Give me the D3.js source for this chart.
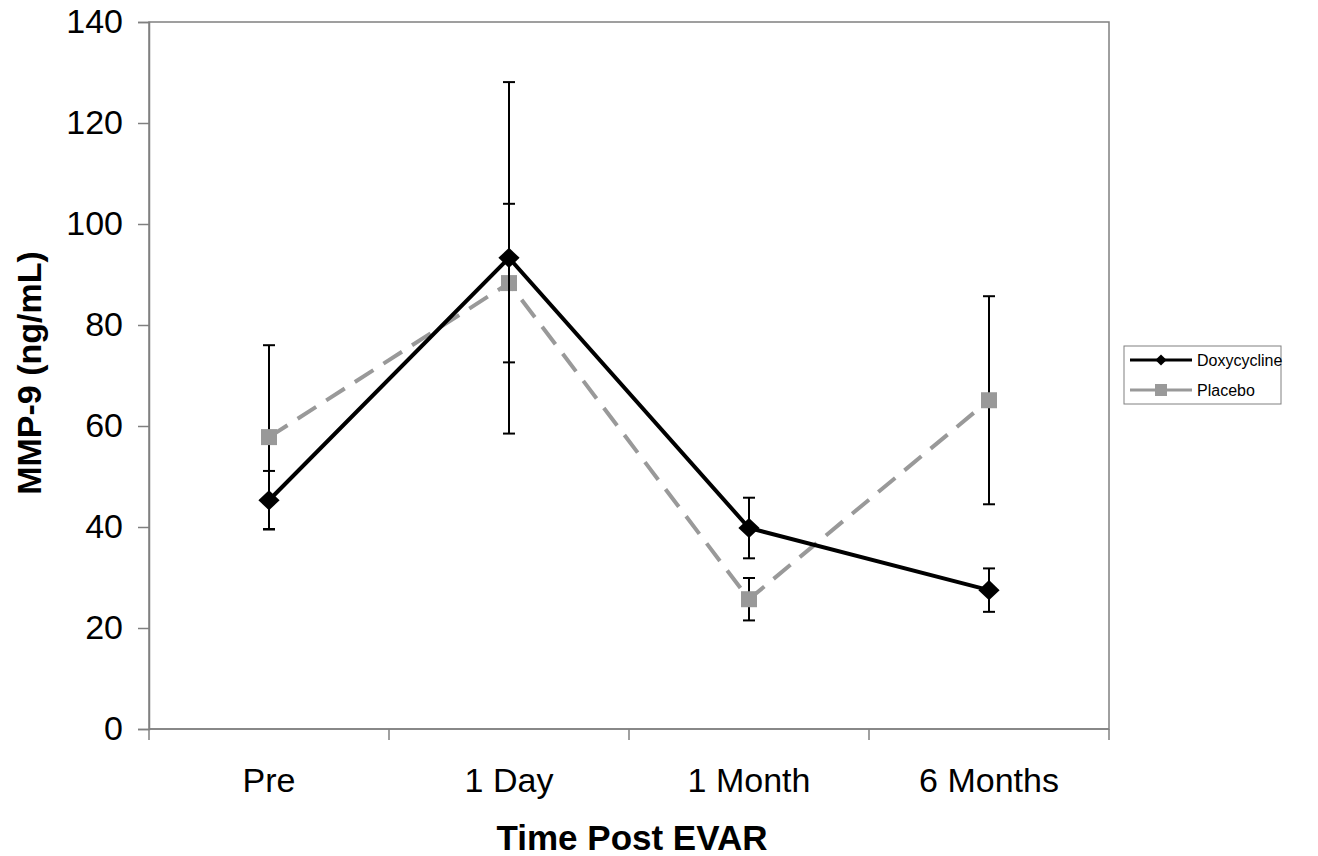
<!DOCTYPE html>
<html>
<head>
<meta charset="utf-8">
<script src="https://cdn.jsdelivr.net/npm/d3@7"></script>
<style>
  body { margin: 0; background: #fff; }
  svg { font-family: "Liberation Sans", Arial, sans-serif; }
</style>
</head>
<body>
<div class="chart"></div>
<script>
// chart data
const categories = ["Pre", "1 Day", "1 Month", "6 Months"];
const doxyValues = [45.3, 93.3, 39.8, 27.5];
const doxyErrors = [5.8, 34.8, 6.0, 4.3];
const placeboValues = [57.8, 88.3, 25.7, 65.1];
const placeboErrors = [18.2, 15.7, 4.2, 20.6];
const yTicks = [0, 20, 40, 60, 80, 100, 120, 140];

const width = 1318, height = 856;
const plot = { left: 149, top: 22, right: 1109, bottom: 729 };

const svg = d3.select(".chart").append("svg")
  .attr("width", width)
  .attr("height", height);

const x = d3.scaleBand()
  .domain(categories)
  .range([plot.left, plot.right]);

const y = d3.scaleLinear()
  .domain([0, 140])
  .range([plot.bottom, plot.top]);

// plot frame
svg.append("rect")
  .attr("x", plot.left).attr("y", plot.top)
  .attr("width", plot.right - plot.left)
  .attr("height", plot.bottom - plot.top)
  .attr("fill", "none")
  .attr("stroke", "#808080")
  .attr("stroke-width", 1.5);

// y axis
const yAxis = svg.append("g")
  .attr("transform", "translate(" + plot.left + ",0)")
  .call(d3.axisLeft(y).tickValues(yTicks).tickSize(11).tickPadding(15));
yAxis.select(".domain").attr("stroke", "#808080").attr("stroke-width", 1.5);
yAxis.selectAll(".tick line").attr("stroke", "#808080").attr("stroke-width", 1.5);
yAxis.selectAll(".tick text").attr("font-size", 34).attr("fill", "#000")
  .attr("font-family", "Liberation Sans, Arial, sans-serif");

// x axis: ticks at category boundaries
const xAxis = svg.append("g")
  .attr("transform", "translate(0," + plot.bottom + ")");
xAxis.append("line")
  .attr("x1", plot.left).attr("x2", plot.right)
  .attr("stroke", "#808080").attr("stroke-width", 1.5);
const bounds = categories.map(c => x(c)).concat([plot.right]);
xAxis.selectAll(".xtick")
  .data(bounds)
  .enter()
  .append("line")
    .attr("x1", d => d).attr("x2", d => d)
    .attr("y1", 0).attr("y2", 11)
    .attr("stroke", "#808080").attr("stroke-width", 1.5);
xAxis.selectAll(".xlabel")
  .data(categories)
  .enter()
  .append("text")
    .attr("x", d => x(d) + x.bandwidth() / 2)
    .attr("y", 63)
    .attr("text-anchor", "middle")
    .attr("font-size", 34)
    .text(d => d);

// axis titles
svg.append("text")
  .attr("x", 632)
  .attr("y", 850)
  .attr("text-anchor", "middle")
  .attr("font-size", 35)
  .attr("font-weight", "bold")
  .text("Time Post EVAR");

svg.append("text")
  .attr("transform", "translate(41,373) rotate(-90)")
  .attr("text-anchor", "middle")
  .attr("font-size", 34)
  .attr("font-weight", "bold")
  .text("MMP-9 (ng/mL)");

const cx = c => x(c) + x.bandwidth() / 2;

// error bars
function errorBars(values, errors) {
  const g = svg.append("g");
  categories.forEach((c, i) => {
    const hi = y(values[i] + errors[i]);
    const lo = y(values[i] - errors[i]);
    g.append("line").attr("x1", cx(c)).attr("x2", cx(c)).attr("y1", hi).attr("y2", lo)
      .attr("stroke", "#000").attr("stroke-width", 2);
    [hi, lo].forEach(v => {
      g.append("line").attr("x1", cx(c) - 6).attr("x2", cx(c) + 6).attr("y1", v).attr("y2", v)
        .attr("stroke", "#000").attr("stroke-width", 2);
    });
  });
}

const line = d3.line().x((d, i) => cx(categories[i])).y(d => y(d));

// placebo series
svg.append("path")
  .datum(placeboValues)
  .attr("d", line)
  .attr("fill", "none")
  .attr("stroke", "#999999")
  .attr("stroke-width", 4)
  .attr("stroke-dasharray", "22,12");
errorBars(placeboValues, placeboErrors);
svg.selectAll(".psq")
  .data(placeboValues)
  .enter()
  .append("rect")
    .attr("x", (d, i) => cx(categories[i]) - 8)
    .attr("y", d => y(d) - 8)
    .attr("width", 16).attr("height", 16)
    .attr("fill", "#999999");

// doxycycline series
svg.append("path")
  .datum(doxyValues)
  .attr("d", line)
  .attr("fill", "none")
  .attr("stroke", "#000")
  .attr("stroke-width", 4);
errorBars(doxyValues, doxyErrors);
svg.selectAll(".dmk")
  .data(doxyValues)
  .enter()
  .append("path")
    .attr("d", d3.symbol(d3.symbolDiamond2, 260))
    .attr("transform", (d, i) => "translate(" + cx(categories[i]) + "," + y(d) + ") scale(1.05,1)")
    .attr("fill", "#000");

// legend
const legend = svg.append("g").attr("transform", "translate(1124,346)");
legend.append("rect")
  .attr("width", 157).attr("height", 58)
  .attr("fill", "#fff").attr("stroke", "#808080").attr("stroke-width", 1);
const legendItems = [
  { label: "Doxycycline", color: "#000", marker: "diamond" },
  { label: "Placebo", color: "#999999", marker: "square" }
];
legendItems.forEach((item, i) => {
  const ly = 14 + i * 30;
  legend.append("line")
    .attr("x1", 6).attr("x2", 68).attr("y1", ly).attr("y2", ly)
    .attr("stroke", item.color).attr("stroke-width", 3);
  if (item.marker === "diamond") {
    legend.append("path")
      .attr("d", d3.symbol(d3.symbolDiamond2, 80))
      .attr("transform", "translate(37," + ly + ")")
      .attr("fill", item.color);
  } else {
    legend.append("rect")
      .attr("x", 31).attr("y", ly - 6).attr("width", 12).attr("height", 12)
      .attr("fill", item.color);
  }
  legend.append("text")
    .attr("x", 73).attr("y", ly + 6)
    .attr("font-size", 16)
    .text(item.label);
});
</script>
</body>
</html>
